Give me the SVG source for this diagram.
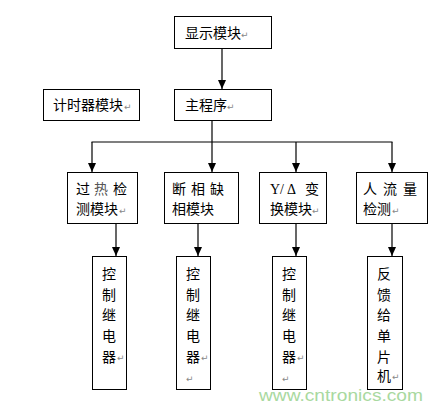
<svg xmlns="http://www.w3.org/2000/svg" width="443" height="409" viewBox="0 0 443 409">
<defs>
<marker id="arr" viewBox="0 0 9 8" refX="9" refY="4" markerWidth="9" markerHeight="8" markerUnits="userSpaceOnUse" orient="auto">
<path d="M0,0 L9,4 L0,8 Z" fill="#000"/>
</marker>
</defs>
<style>
rect{fill:#fff;stroke:#000;stroke-width:1}
.c{stroke:#000;stroke-width:1.2;fill:none}
.t{font-family:"Noto Sans CJK SC","Liberation Sans",sans-serif;font-size:14px;fill:#000}
.s{font-family:"Liberation Serif",serif;font-size:14px;fill:#000}
.p{font-family:"DejaVu Sans",sans-serif;font-size:9px;fill:#888}
</style>
<rect width="443" height="409" style="fill:#fff;stroke:none"/>
<g id="connectors">
<line class="c" x1="222" y1="48" x2="222" y2="89" marker-end="url(#arr)"/>
<polyline class="c" points="212,121 212,142"/>
<line class="c" x1="91.5" y1="142" x2="392.5" y2="142"/>
<line class="c" x1="92" y1="142" x2="92" y2="172" marker-end="url(#arr)"/>
<line class="c" x1="212" y1="142" x2="212" y2="172" marker-end="url(#arr)"/>
<line class="c" x1="296" y1="142" x2="296" y2="172" marker-end="url(#arr)"/>
<line class="c" x1="392" y1="142" x2="392" y2="172" marker-end="url(#arr)"/>
<line class="c" x1="116" y1="224" x2="116" y2="256" marker-end="url(#arr)"/>
<line class="c" x1="198" y1="224" x2="198" y2="256" marker-end="url(#arr)"/>
<line class="c" x1="296" y1="224" x2="296" y2="256" marker-end="url(#arr)"/>
<line class="c" x1="392" y1="224" x2="392" y2="256" marker-end="url(#arr)"/>
</g>
<g id="display">
<rect x="174.5" y="16.5" width="97" height="32"/>
<text class="t" x="185" y="38">显示模块</text><text class="p" x="241" y="38">↵</text>
</g>
<g id="main">
<rect x="174.5" y="89.5" width="97" height="31"/>
<text class="t" x="185" y="110">主程序</text><text class="p" x="227" y="110">↵</text>
</g>
<g id="timer">
<rect x="43.5" y="89.5" width="96" height="31"/>
<text class="t" x="53" y="110">计时器模块</text><text class="p" x="124" y="110">↵</text>
</g>
<g id="overheat">
<rect x="67.5" y="172.5" width="70" height="51"/>
<text class="t" x="76" y="194">过</text><text class="t" x="94" y="194" style="fill:#555">热</text><text class="t" x="113" y="194">检</text>
<text class="t" x="76" y="214">测模块</text><text class="p" x="119" y="214">↵</text>
</g>
<g id="phase">
<rect x="164.5" y="172.5" width="74" height="51"/>
<text class="t" x="172" y="194">断</text><text class="t" x="191" y="194">相</text><text class="t" x="210" y="194">缺</text>
<text class="t" x="172" y="214">相模块</text>
</g>
<g id="stardelta">
<rect x="259.5" y="172.5" width="67" height="51"/>
<text class="s" x="270" y="194">Y/</text><text class="s" x="287" y="194">Δ</text><text class="t" x="305" y="194">变</text>
<text class="t" x="270" y="214">换模块</text><text class="p" x="312" y="214">↵</text>
</g>
<g id="flow">
<rect x="356.5" y="172.5" width="71" height="51"/>
<text class="t" x="363" y="194">人</text><text class="t" x="383" y="194">流</text><text class="t" x="403" y="194">量</text>
<text class="t" x="363" y="214">检测</text><text class="p" x="392" y="214">↵</text>
</g>
<g id="relay1">
<rect x="92.5" y="256.5" width="34" height="133"/>
<text class="t" x="102" y="279">控</text><text class="t" x="102" y="300">制</text><text class="t" x="102" y="320">继</text><text class="t" x="102" y="341">电</text><text class="t" x="102" y="362">器</text><text class="p" x="117" y="361">↵</text>
</g>
<g id="relay2">
<rect x="176.5" y="256.5" width="34" height="133"/>
<text class="t" x="186" y="279">控</text><text class="t" x="186" y="300">制</text><text class="t" x="186" y="320">继</text><text class="t" x="186" y="341">电</text><text class="t" x="186" y="362">器</text><text class="p" x="201" y="361">↵</text><text class="p" x="186" y="382">↵</text>
</g>
<g id="relay3">
<rect x="272.5" y="256.5" width="34" height="133"/>
<text class="t" x="282" y="279">控</text><text class="t" x="282" y="300">制</text><text class="t" x="282" y="320">继</text><text class="t" x="282" y="341">电</text><text class="t" x="282" y="362">器</text><text class="p" x="297" y="361">↵</text><text class="p" x="282" y="382">↵</text>
</g>
<g id="feedback">
<rect x="367.5" y="256.5" width="35" height="133"/>
<text class="t" x="377" y="279">反</text><text class="t" x="377" y="300">馈</text><text class="t" x="377" y="320">给</text><text class="t" x="377" y="341">单</text><text class="t" x="377" y="362">片</text><text class="t" x="377" y="381">机</text><text class="p" x="392" y="380">↵</text>
</g>
<text x="259" y="401" textLength="164" lengthAdjust="spacingAndGlyphs" style="font-family:'Liberation Sans',sans-serif;font-size:17px;fill:#a9d9a0">www.cntronics.com</text>
</svg>
